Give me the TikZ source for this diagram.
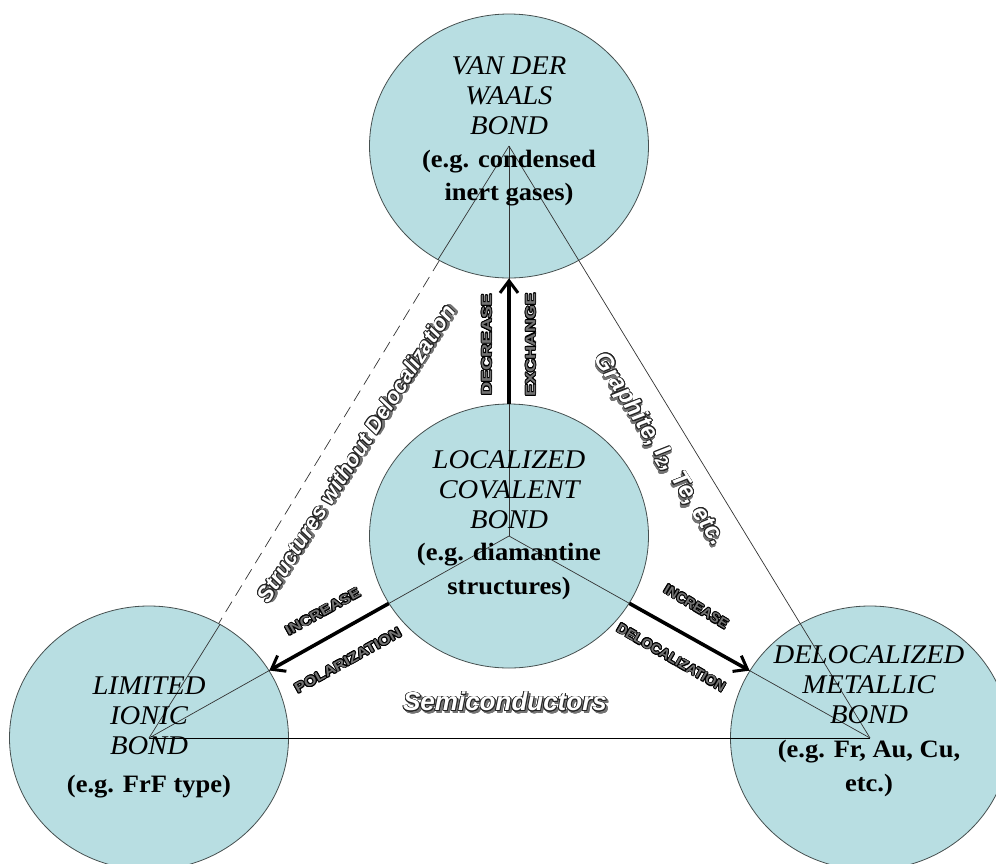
\documentclass[tikz,border=0pt]{standalone}
\usepackage{fontspec}
\setmainfont{Liberation Serif}
\setsansfont{Liberation Sans}
\usepackage[copies]{contour}
\contourlength{0.8pt}
\usetikzlibrary{shapes.geometric,arrows.meta}

\definecolor{bondfill}{RGB}{184,222,226}
\definecolor{rimgray}{RGB}{70,80,80}

% outlined words with a grey shadow
\newcommand{\artword}[1]{\rlap{\hspace{2pt}\raisebox{-2pt}{\color{black!55}\contour{black!55}{#1}}}{\color{white}\contour{black!85}{#1}}}
\newcommand{\tagword}[2][1.2]{\scalebox{#1}[1]{\rlap{\hspace{1pt}\raisebox{-1pt}{\color{black!35}#2}}{\color{black!55}\contour{black}{#2}}}}
\newcommand{\capline}[1]{{\fontsize{27}{30}\selectfont\itshape #1}}

\tikzset{
  bond/.style={ellipse, draw=rimgray, line width=0.8pt, fill=bondfill,
    minimum width=279pt, minimum height=264pt, inner sep=0pt},
  bondtext/.style={align=center, font=\fontsize{25}{30}\selectfont, inner sep=0pt,
    xscale=1.06, transform shape},
  spoke/.style={draw=black!80, line width=0.7pt},
  push/.style={line width=3.6pt, -{Straight Barb[length=12pt,width=18pt,line width=3pt]}},
  arttext/.style={font=\sffamily\bfseries\itshape\fontsize{22}{22}\selectfont, inner sep=0pt},
  tagtext/.style={font=\sffamily\bfseries\fontsize{14}{14}\selectfont, inner sep=0pt}
}

\begin{document}
\begin{tikzpicture}[x=1pt,y=-1pt]
  \useasboundingbox (0,0) rectangle (996,863);
  % the four kinds of bond
  \node[bond] (vdw) at (509,146) {};
  \node[bond] (cov) at (509,536) {};
  \node[bond] (ionic) at (149,738) {};
  \node[bond] (metal) at (870,738) {};
  % outer triangle
  \draw[spoke, dash pattern=on 12pt off 7pt] (vdw) -- (ionic);
  \draw[spoke] (vdw.center) -- (vdw.238.7);
  \draw[spoke] (ionic.center) -- (ionic.58.7);
  \draw[spoke] (vdw.center) -- (metal.center);
  \draw[spoke, draw=black, line width=1pt] (ionic.center) -- (metal.center);
  % from the covalent bond
  \foreach \other in {vdw, ionic, metal}{
    \draw[spoke] (cov.center) -- (\other.center);
    \draw[push] (cov) -- (\other);
  }
  % texts in the circles
  \node[bondtext] (vdwtext) at (509,131) {\capline{VAN DER}\\\capline{WAALS}\\\capline{BOND}\\[3pt]\textbf{(e.g. condensed}\\[3pt]\textbf{inert gases)}};
  \node[bondtext] (covtext) at (509,525) {\capline{LOCALIZED}\\\capline{COVALENT}\\\capline{BOND}\\[2pt]\textbf{(e.g. diamantine}\\[4pt]\textbf{structures)}};
  \node[bondtext] (ionictext) at (149,737) {\capline{LIMITED}\\\capline{IONIC}\\\capline{BOND}\\[8pt]\textbf{(e.g. FrF type)}};
  \node[bondtext] (metaltext) at (869,721) {\capline{DELOCALIZED}\\\capline{METALLIC}\\\capline{BOND}\\[4pt]\textbf{(e.g. Fr, Au, Cu,}\\[4pt]\textbf{etc.)}};
  % labels along the sides
  \node[arttext, rotate=57.4] (nodeloc) at (357,454) {\artword{Structures without Delocalization}};
  \node[arttext, font=\sffamily\bfseries\itshape\fontsize{24}{24}\selectfont, rotate=-57.5] (graphite) at (658,450) {\artword{Graphite, I\textsubscript{2}, Te, etc.}};
  \node[arttext, font=\sffamily\bfseries\itshape\fontsize{26}{26}\selectfont] (semi) at (505,703) {\artword{Semiconductors}};
  % labels at the arrows
  \node[tagtext, rotate=90] (decr) at (487,345) {\tagword[1.3]{DECREASE}};
  \node[tagtext, rotate=90] (exch) at (531,345) {\tagword[1.3]{EXCHANGE}};
  \node[tagtext, rotate=29] (incleft) at (323,612) {\tagword[1.15]{INCREASE}};
  \node[tagtext, rotate=29] (polar) at (348,661) {\tagword[1.15]{POLARIZATION}};
  \node[tagtext, rotate=-31] (incright) at (696,607) {\tagword[1.0]{INCREASE}};
  \node[tagtext, rotate=-30] (deloc) at (671,658) {\tagword[1.0]{DELOCALIZATION}};
\end{tikzpicture}
\end{document}
